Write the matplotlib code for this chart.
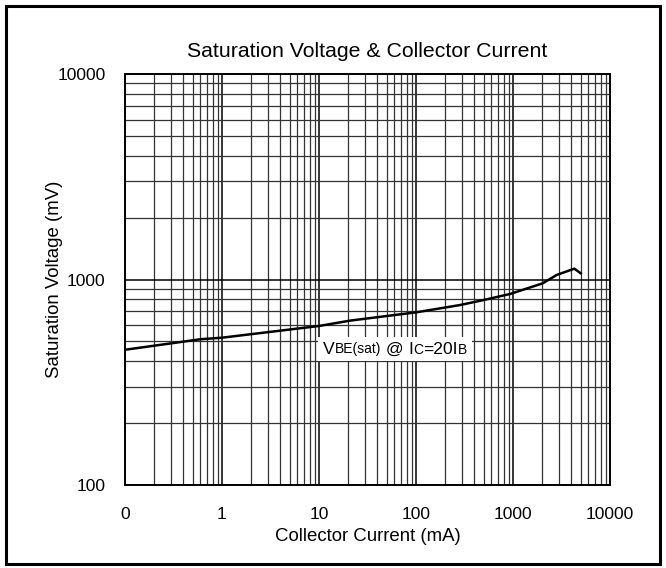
import matplotlib
matplotlib.use('Agg')
import matplotlib.pyplot as plt
from matplotlib.ticker import LogLocator, NullFormatter, FixedLocator
from matplotlib.offsetbox import TextArea, HPacker, AnnotationBbox
from matplotlib.patches import Rectangle

plt.rcParams['font.family'] = ['Liberation Sans', 'DejaVu Sans']

# VBE(sat) curve
ic_ma = [0.1, 0.6, 1, 10, 21, 100, 284, 494, 931, 2023, 2820, 4290, 4990]
vbe_mv = [455, 512, 521, 594, 631, 692, 751, 794, 850, 958, 1052, 1129, 1072]

x_ticks = [0.1, 1, 10, 100, 1000, 10000]
x_labels = ['0', '1', '10', '100', '1000', '10000']
y_ticks = [100, 1000, 10000]
y_labels = ['100', '1000', '10000']

fig = plt.figure(figsize=(6.66, 5.68), dpi=100)
ax = fig.add_axes([125 / 666, 1 - 485 / 568, 485 / 666, 411 / 568])

# outer frame of the picture
fig.patches.append(Rectangle((6 / 666, 4 / 568), 654 / 666, 558 / 568,
                             transform=fig.transFigure, fill=False,
                             edgecolor='black', linewidth=2.2))

ax.set_xscale('log')
ax.set_yscale('log')
ax.set_xlim(0.1, 10000)
ax.set_ylim(100, 10000)

ax.xaxis.set_major_locator(FixedLocator(x_ticks))
ax.set_xticklabels(x_labels)
ax.yaxis.set_major_locator(FixedLocator(y_ticks))
ax.set_yticklabels(y_labels)
ax.xaxis.set_minor_locator(LogLocator(base=10, subs=range(2, 10), numticks=20))
ax.yaxis.set_minor_locator(LogLocator(base=10, subs=range(2, 10), numticks=20))
ax.xaxis.set_minor_formatter(NullFormatter())
ax.yaxis.set_minor_formatter(NullFormatter())
ax.tick_params(which='both', length=0)
ax.tick_params(axis='x', pad=16, labelsize=12.5)
ax.tick_params(axis='y', pad=14, labelsize=12.5)

ax.grid(True, which='major', color='black', linewidth=1.1)
ax.grid(True, which='minor', color='#333333', linewidth=0.9)
for s in ax.spines.values():
    s.set_linewidth(1.4)

ax.plot(ic_ma, vbe_mv, color='black', linewidth=1.8)

ax.set_title('Saturation Voltage & Collector Current', fontsize=15.3, pad=12)
ax.set_xlabel('Collector Current (mA)', fontsize=13.4, labelpad=4)
ax.set_ylabel('Saturation Voltage (mV)', fontsize=13.4, labelpad=-4)

# condition label with small, non-lowered subscripts
big = dict(size=12.6, color='black')
small = dict(size=10, color='black')
parts = [('V', big), ('BE(sat)', small), (' @ ', big), ('I', big),
         ('C', small), ('=20I', big), ('B', small)]
box = HPacker(children=[TextArea(t, textprops=p) for t, p in parts],
              align='baseline', pad=0, sep=0)
ab = AnnotationBbox(box, (395 / 666, 1 - 349 / 568), xycoords='figure fraction',
                    frameon=True, pad=0.35, box_alignment=(0.5, 0.5))
ab.patch.set_facecolor('white')
ab.patch.set_edgecolor('none')
ab.set_zorder(5)
ax.add_artist(ab)

fig.savefig('out.png', dpi=100)
